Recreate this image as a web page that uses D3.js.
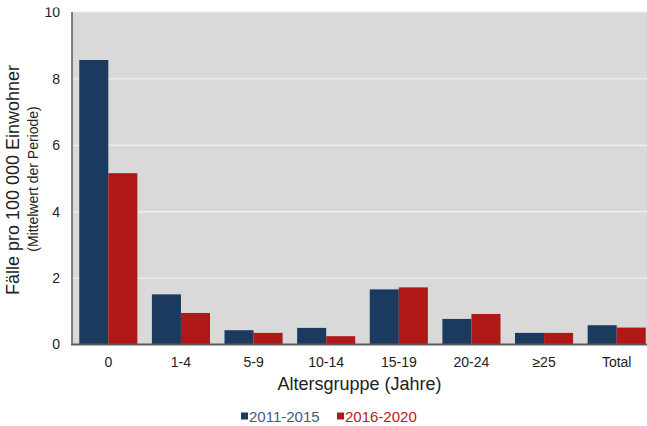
<!DOCTYPE html>
<html>
<head>
<meta charset="utf-8">
<script src="https://cdn.jsdelivr.net/npm/d3@7"></script>
<style>
  html, body { margin: 0; padding: 0; background: #ffffff; }
  svg { display: block; font-family: "Liberation Sans", Arial, sans-serif; }
</style>
</head>
<body>
<svg id="chart" width="647" height="426"></svg>
<script>
const categories = ["0", "1-4", "5-9", "10-14", "15-19", "20-24", "≥25", "Total"];
const seriesNames = ["2011-2015", "2016-2020"];
const values2011_2015 = [8.57, 1.51, 0.43, 0.50, 1.66, 0.77, 0.35, 0.58];
const values2016_2020 = [5.16, 0.95, 0.35, 0.25, 1.72, 0.92, 0.35, 0.51];
const yTicks = [0, 2, 4, 6, 8, 10];
const yTitle = "Fälle pro 100 000 Einwohner";
const ySubtitle = "(Mittelwert der Periode)";
const xTitle = "Altersgruppe (Jahre)";

(function () {
const colors = ["#1a3a5f", "#b01818"];
const legendTextColors = ["#475a78", "#b82024"];

const svg = d3.select("#chart");
const pLeft = 72, pRight = 653, pTop = 12.5, pBottom = 344.5;

const x0 = d3.scaleBand().domain(categories).range([pLeft, pRight]).paddingInner(0.2).paddingOuter(0.1);
const x1 = d3.scaleBand().domain(seriesNames).range([0, x0.bandwidth()]);
const y = d3.scaleLinear().domain([0, 10]).range([pBottom, pTop]);

// plot background
svg.append("rect").attr("x", pLeft).attr("y", pTop - 0.5).attr("width", pRight - pLeft).attr("height", pBottom - pTop + 0.5)
  .attr("fill", "#d9d9d9");
svg.append("line").attr("x1", pLeft).attr("x2", pRight).attr("y1", pTop - 0.5).attr("y2", pTop - 0.5)
  .attr("stroke", "#ececec").attr("stroke-width", 1.2);

// gridlines
svg.append("g").selectAll("line").data(yTicks.filter(d => d > 0 && d < 10)).join("line")
  .attr("x1", pLeft).attr("x2", pRight).attr("y1", d => y(d)).attr("y2", d => y(d))
  .attr("stroke", "#eeeeee").attr("stroke-width", 1.4);

// bars
const data = categories.map((c, i) => ({ cat: c, vals: [values2011_2015[i], values2016_2020[i]] }));
const groups = svg.append("g").selectAll("g").data(data).join("g")
  .attr("transform", d => `translate(${x0(d.cat)},0)`);
groups.selectAll("rect").data(d => d.vals.map((v, j) => ({ v, s: seriesNames[j], j }))).join("rect")
  .attr("x", d => x1(d.s)).attr("width", x1.bandwidth())
  .attr("y", d => y(d.v)).attr("height", d => y(0) - y(d.v))
  .attr("fill", d => colors[d.j]);

// axes lines
svg.append("line").attr("x1", pLeft).attr("x2", pLeft).attr("y1", pTop - 0.5).attr("y2", pBottom)
  .attr("stroke", "#5a5a5a").attr("stroke-width", 1.5);
svg.append("line").attr("x1", pLeft - 1).attr("x2", pRight).attr("y1", pBottom).attr("y2", pBottom)
  .attr("stroke", "#5a5a5a").attr("stroke-width", 2);

// y axis labels via axis generator
const clip = svg.append("clipPath").attr("id", "yclip");
clip.append("rect").attr("x", -70).attr("y", 7.5).attr("width", 80).attr("height", 400);
const yAxis = d3.axisLeft(y).tickValues(yTicks).tickSize(0).tickPadding(0).tickFormat(d3.format("d"));
const yg = svg.append("g").attr("transform", `translate(60,0)`).attr("clip-path", "url(#yclip)").call(yAxis);
yg.select(".domain").remove();
yg.selectAll("text").attr("font-size", 14).attr("fill", "#222").attr("font-family", "Liberation Sans, Arial, sans-serif");

// x axis labels
const xAxis = d3.axisBottom(x0).tickSize(0).tickPadding(0);
const xg = svg.append("g").attr("transform", `translate(0,${pBottom})`).call(xAxis);
xg.select(".domain").remove();
xg.selectAll("text").attr("font-size", 14).attr("fill", "#222").attr("dy", null).attr("y", 22)
  .attr("font-family", "Liberation Sans, Arial, sans-serif");

// titles
svg.append("text").attr("transform", "translate(19,180) rotate(-90)").attr("text-anchor", "middle")
  .attr("font-size", 18).attr("fill", "#222").text(yTitle);
svg.append("text").attr("transform", "translate(38,179) rotate(-90)").attr("text-anchor", "middle")
  .attr("font-size", 14).attr("fill", "#222").text(ySubtitle);
svg.append("text").attr("x", (pLeft + 647) / 2).attr("y", 390).attr("text-anchor", "middle")
  .attr("font-size", 18).attr("fill", "#222").text(xTitle);

// legend
const legendX = [241, 337];
const leg = svg.append("g").selectAll("g").data(seriesNames).join("g")
  .attr("transform", (d, i) => `translate(${legendX[i]},0)`);
leg.append("rect").attr("x", 0).attr("y", 412.5).attr("width", 7).attr("height", 7).attr("fill", (d, i) => colors[i]);
leg.append("text").attr("x", 8).attr("y", 421.5).attr("font-size", 15)
  .attr("fill", (d, i) => legendTextColors[i]).text(d => d);
})();
</script>
</body>
</html>
